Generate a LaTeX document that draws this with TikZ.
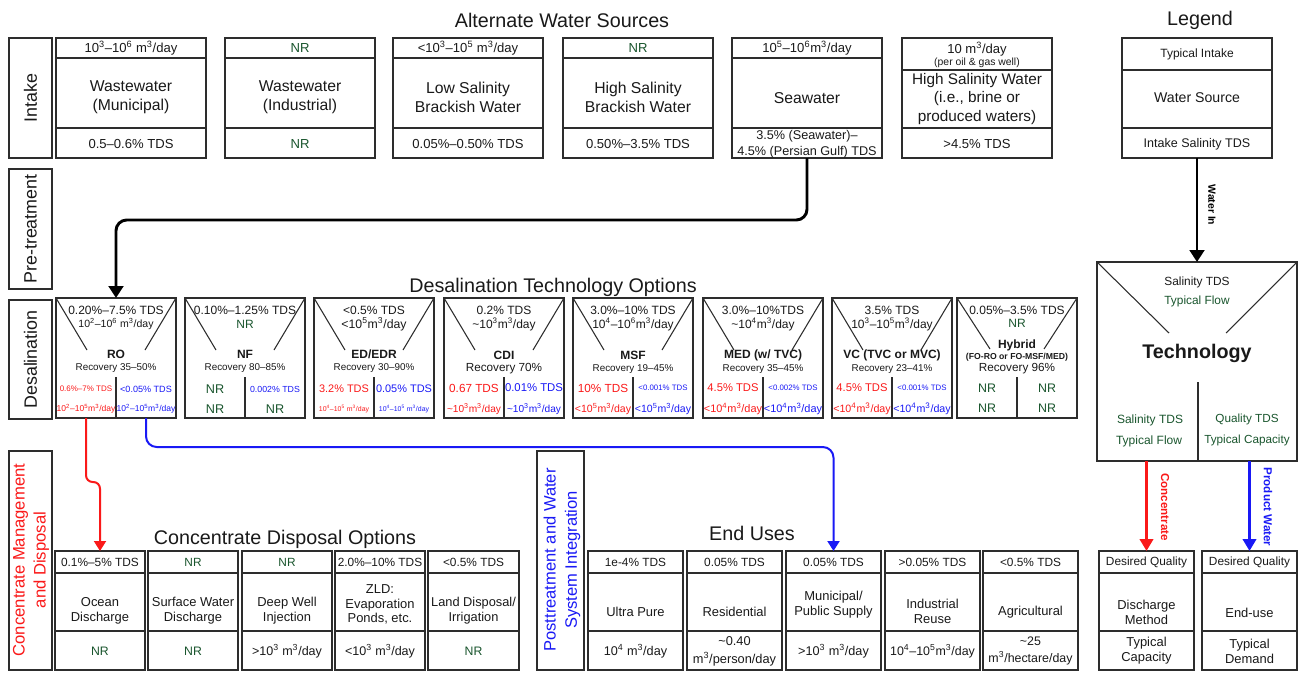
\documentclass[tikz,border=0pt]{standalone}
\usepackage{fontspec}
\setmainfont{Liberation Sans}
\usetikzlibrary{arrows.meta}
\definecolor{nrg}{RGB}{25,85,45}
\definecolor{cred}{RGB}{250,25,25}
\definecolor{cblue}{RGB}{25,25,245}
\definecolor{txtc}{RGB}{25,25,25}
\definecolor{ln}{RGB}{45,45,45}
\newcommand\tsup[1]{\textsuperscript{#1}}
\begin{document}
\begin{tikzpicture}[x=0.75pt,y=-0.75pt,
 box/.style 2 args={draw=ln, line width=1.1pt, inner sep=0pt, outer sep=0pt, anchor=north west, minimum width=#1*0.75pt, minimum height=#2*0.75pt},
 rule/.style={draw=ln, line width=1.1pt},
 diag/.style={draw=ln, line width=0.8pt},
 tx/.style={inner sep=0pt, text=txtc, align=center},
 fs/.style 2 args={font=\fontsize{#1}{#2}\selectfont},
 nr/.style={text=nrg},
 rd/.style={text=cred},
 bl/.style={text=cblue},
 side/.style={tx, rotate=90, fs={13.4}{16}},
 title/.style={tx, fs={14.8}{17}},
 bigarrow/.style={draw=black, line width=2.2pt, -{Triangle[length=9pt,width=11pt]}},
 redarrow/.style={draw=cred, line width=1.5pt, -{Triangle[length=7.5pt,width=9pt]}},
 bluearrow/.style={draw=cblue, line width=1.5pt, -{Triangle[length=7.5pt,width=9pt]}},
 legred/.style={draw=cred, line width=2.2pt, -{Triangle[length=9pt,width=10pt]}},
 legblue/.style={draw=cblue, line width=2.2pt, -{Triangle[length=9pt,width=10pt]}},
 arrlab/.style={inner sep=0pt, rotate=-90, font=\fontsize{8.7}{10}\selectfont\bfseries},
]
\useasboundingbox (0,0) rectangle (1299,672);

% ---------- titles
\node[title] (tAWS) at (562,20) {Alternate Water Sources};
\node[title] (tLeg) at (1200,20) {Legend};
\node[title] (tDes) at (553,287) {Desalination Technology Options};
\node[title] (tCon) at (285,539) {Concentrate Disposal Options};
\node[title] (tEnd) at (752,533) {End Uses};

% ---------- side labels
\node[box={43}{120}] (lIn) at (9,38) {};
\node[side] (lInT) at (lIn.center) {Intake};
\node[box={43}{120}] (lPre) at (9,169) {};
\node[side] (lPreT) at (lPre.center) {Pre-treatment};
\node[box={43}{119}] (lDes) at (9,300) {};
\node[side] (lDesT) at (lDes.center) {Desalination};
\node[box={43}{219}] (lCon) at (9,451) {};
\node[side, text=cred, fs={12.5}{15.8}] (lConT) at (31,560) {Concentrate Management\\and Disposal};
\node[box={47}{219}] (lPost) at (537,451) {};
\node[side, text=cblue, fs={12.4}{15.8}] (lPostT) at (562,560) {Posttreatment and Water\\System Integration};

% ---------- intake row
\begin{scope}[shift={(56,38)}]
\node[box={150}{120}] (wwm) at (0,0) {};
\draw[rule] (0,20) -- (150,20) (0,90) -- (150,90);
\node[tx,fs={9.8}{11.8}] (wwm1) at (75,10.5) {10\tsup{3}--10\tsup{6} m\tsup{3}/day};
\node[tx,fs={11.8}{14.2}] (wwm2) at (75,59) {Wastewater\\(Municipal)};
\node[tx,fs={9.8}{11.8}] (wwm3) at (75,106) {0.5--0.6\% TDS};
\end{scope}
\begin{scope}[shift={(225,38)}]
\node[box={150}{120}] (wwi) at (0,0) {};
\draw[rule] (0,20) -- (150,20) (0,90) -- (150,90);
\node[tx,nr,fs={9.8}{11.8}] (wwi1) at (75,10.5) {NR};
\node[tx,fs={11.8}{14.2}] (wwi2) at (75,59) {Wastewater\\(Industrial)};
\node[tx,nr,fs={9.8}{11.8}] (wwi3) at (75,106) {NR};
\end{scope}
\begin{scope}[shift={(393,38)}]
\node[box={150}{120}] (lsb) at (0,0) {};
\draw[rule] (0,20) -- (150,20) (0,90) -- (150,90);
\node[tx,fs={9.8}{11.8}] (lsb1) at (75,10.5) {<10\tsup{3}--10\tsup{5} m\tsup{3}/day};
\node[tx,fs={11.8}{14.2}] (lsb2) at (75,59) {Low Salinity\\Brackish Water};
\node[tx,fs={9.8}{11.8}] (lsb3) at (75,106) {0.05\%--0.50\% TDS};
\end{scope}
\begin{scope}[shift={(563,38)}]
\node[box={150}{120}] (hsb) at (0,0) {};
\draw[rule] (0,20) -- (150,20) (0,90) -- (150,90);
\node[tx,nr,fs={9.8}{11.8}] (hsb1) at (75,10.5) {NR};
\node[tx,fs={11.8}{14.2}] (hsb2) at (75,59) {High Salinity\\Brackish Water};
\node[tx,fs={9.8}{11.8}] (hsb3) at (75,106) {0.50\%--3.5\% TDS};
\end{scope}
\begin{scope}[shift={(732,38)}]
\node[box={150}{120}] (sw) at (0,0) {};
\draw[rule] (0,20) -- (150,20) (0,90) -- (150,90);
\node[tx,fs={9.8}{11.8}] (sw1) at (75,10.5) {10\tsup{5}--10\tsup{6}m\tsup{3}/day};
\node[tx,fs={11.8}{14.2}] (sw2) at (75,60) {Seawater};
\node[tx,fs={9.5}{12}] (sw3) at (75,106) {3.5\% (Seawater)--\\4.5\% (Persian Gulf) TDS};
\end{scope}
\begin{scope}[shift={(902,38)}]
\node[box={150}{120}] (hsw) at (0,0) {};
\draw[rule] (0,32) -- (150,32) (0,90) -- (150,90);
\node[tx,fs={9.8}{11.8}] (hsw1) at (75,11) {10 m\tsup{3}/day};
\node[tx,fs={7.8}{9}] (hsw1b) at (75,25) {(per oil \& gas well)};
\node[tx,fs={11.5}{14.2}] (hsw2) at (75,61) {High Salinity Water\\(i.e., brine or\\produced waters)};
\node[tx,fs={9.8}{11.8}] (hsw3) at (75,106) {>4.5\% TDS};
\end{scope}
\begin{scope}[shift={(1122,38)}]
\node[box={150}{120}] (leg) at (0,0) {};
\draw[rule] (0,32) -- (150,32) (0,90) -- (150,90);
\node[tx,fs={9}{11}] (leg1) at (75,16) {Typical Intake};
\node[tx,fs={10.6}{12.5}] (leg2) at (75,60) {Water Source};
\node[tx,fs={9.4}{11}] (leg3) at (75,106) {Intake Salinity TDS};
\end{scope}

% ---------- desalination row
\begin{scope}[shift={(56,298)}]
\node[box={120}{120}] (ro) at (0,0) {};
\draw[diag] (0,0) -- (31,52) (120,0) -- (89,52);
\draw[rule] (60,79) -- (60,120);
\node[tx,fs={9}{10}] (ro1) at (60,12) {0.20\%--7.5\% TDS};
\node[tx,fs={7.9}{9}] (ro2) at (60,26) {10\tsup{2}--10\tsup{6} m\tsup{3}/day};
\node[tx,fs={9}{10}] (ro3) at (60,56) {\bfseries RO};
\node[tx,fs={7.4}{9}] (ro4) at (60,70) {Recovery 35--50\%};
\node[tx,rd,fs={6}{7}] (ro5) at (30,91) {0.6\%--7\% TDS};
\node[tx,rd,fs={6.4}{7}] (ro6) at (30,111) {10\tsup{2}--10\tsup{5}m\tsup{3}/day};
\node[tx,bl,fs={6.8}{8}] (ro7) at (90,91) {<0.05\% TDS};
\node[tx,bl,fs={6.4}{7}] (ro8) at (90,111) {10\tsup{2}--10\tsup{5}m\tsup{3}/day};
\end{scope}
\begin{scope}[shift={(185,298)}]
\node[box={120}{120}] (nf) at (0,0) {};
\draw[diag] (0,0) -- (31,52) (120,0) -- (89,52);
\draw[rule] (60,79) -- (60,120);
\node[tx,fs={9}{10}] (nf1) at (60,12) {0.10\%--1.25\% TDS};
\node[tx,nr,fs={9}{10}] (nf2) at (60,26) {NR};
\node[tx,fs={9}{10}] (nf3) at (60,56) {\bfseries NF};
\node[tx,fs={7.4}{9}] (nf4) at (60,70) {Recovery 80--85\%};
\node[tx,nr,fs={9.5}{10}] (nf5) at (30,91) {NR};
\node[tx,nr,fs={9.5}{10}] (nf6) at (30,111) {NR};
\node[tx,bl,fs={6.6}{8}] (nf7) at (90,91) {0.002\% TDS};
\node[tx,nr,fs={9.5}{10}] (nf8) at (90,111) {NR};
\end{scope}
\begin{scope}[shift={(314,298)}]
\node[box={120}{120}] (ed) at (0,0) {};
\draw[diag] (0,0) -- (31,52) (120,0) -- (89,52);
\draw[rule] (60,79) -- (60,120);
\node[tx,fs={9}{10}] (ed1) at (60,12) {<0.5\% TDS};
\node[tx,fs={9.2}{10}] (ed2) at (60,26) {<10\tsup{5}m\tsup{3}/day};
\node[tx,fs={9}{10}] (ed3) at (60,56) {\bfseries ED/EDR};
\node[tx,fs={7.4}{9}] (ed4) at (60,70) {Recovery 30--90\%};
\node[tx,rd,fs={8.2}{9}] (ed5) at (30,91) {3.2\% TDS};
\node[tx,rd,fs={5.2}{6}] (ed6) at (30,111) {10\tsup{4}--10\tsup{5} m\tsup{3}/day};
\node[tx,bl,fs={8.2}{9}] (ed7) at (90,91) {0.05\% TDS};
\node[tx,bl,fs={5.2}{6}] (ed8) at (90,111) {10\tsup{4}--10\tsup{5} m\tsup{3}/day};
\end{scope}
\begin{scope}[shift={(444,298)}]
\node[box={120}{120}] (cdi) at (0,0) {};
\draw[diag] (0,0) -- (31,52) (120,0) -- (89,52);
\draw[rule] (60,79) -- (60,120);
\node[tx,fs={9}{10}] (cdi1) at (60,12) {0.2\% TDS};
\node[tx,fs={9}{10}] (cdi2) at (60,26) {\textasciitilde10\tsup{3}m\tsup{3}/day};
\node[tx,fs={9}{10}] (cdi3) at (60,57) {\bfseries CDI};
\node[tx,fs={8.8}{10}] (cdi4) at (60,71) {Recovery 70\%};
\node[tx,rd,fs={8.8}{10}] (cdi5) at (30,90) {0.67 TDS};
\node[tx,rd,fs={7.6}{9}] (cdi6) at (30,111) {\textasciitilde10\tsup{3}m\tsup{3}/day};
\node[tx,bl,fs={8.5}{10}] (cdi7) at (90,90) {0.01\% TDS};
\node[tx,bl,fs={7.6}{9}] (cdi8) at (90,111) {\textasciitilde10\tsup{3}m\tsup{3}/day};
\end{scope}
\begin{scope}[shift={(573,298)}]
\node[box={120}{120}] (msf) at (0,0) {};
\draw[diag] (0,0) -- (31,52) (120,0) -- (89,52);
\draw[rule] (60,79) -- (60,120);
\node[tx,fs={9}{10}] (msf1) at (60,12) {3.0\%--10\% TDS};
\node[tx,fs={9}{10}] (msf2) at (60,26) {10\tsup{4}--10\tsup{6}m\tsup{3}/day};
\node[tx,fs={9}{10}] (msf3) at (60,57) {\bfseries MSF};
\node[tx,fs={7.4}{9}] (msf4) at (60,71) {Recovery 19--45\%};
\node[tx,rd,fs={8.8}{10}] (msf5) at (30,90) {10\% TDS};
\node[tx,rd,fs={7.9}{9}] (msf6) at (30,111) {<10\tsup{5}m\tsup{3}/day};
\node[tx,bl,fs={5.9}{7}] (msf7) at (90,90) {<0.001\% TDS};
\node[tx,bl,fs={7.9}{9}] (msf8) at (90,111) {<10\tsup{5}m\tsup{3}/day};
\end{scope}
\begin{scope}[shift={(703,298)}]
\node[box={120}{120}] (med) at (0,0) {};
\draw[diag] (0,0) -- (31,52) (120,0) -- (89,52);
\draw[rule] (60,79) -- (60,120);
\node[tx,fs={9}{10}] (med1) at (60,12) {3.0\%--10\%TDS};
\node[tx,fs={9}{10}] (med2) at (60,26) {\textasciitilde10\tsup{4}m\tsup{3}/day};
\node[tx,fs={9}{10}] (med3) at (60,57) {\bfseries MED (w/ TVC)};
\node[tx,fs={7.4}{9}] (med4) at (60,71) {Recovery 35--45\%};
\node[tx,rd,fs={8.4}{10}] (med5) at (30,90) {4.5\% TDS};
\node[tx,rd,fs={8.2}{9}] (med6) at (30,111) {<10\tsup{4}m\tsup{3}/day};
\node[tx,bl,fs={5.9}{7}] (med7) at (90,90) {<0.002\% TDS};
\node[tx,bl,fs={8.2}{9}] (med8) at (90,111) {<10\tsup{4}m\tsup{3}/day};
\end{scope}
\begin{scope}[shift={(832,298)}]
\node[box={120}{120}] (vc) at (0,0) {};
\draw[diag] (0,0) -- (31,52) (120,0) -- (89,52);
\draw[rule] (60,79) -- (60,120);
\node[tx,fs={9}{10}] (vc1) at (60,12) {3.5\% TDS};
\node[tx,fs={9}{10}] (vc2) at (60,26) {10\tsup{3}--10\tsup{5}m\tsup{3}/day};
\node[tx,fs={9}{10}] (vc3) at (60,57) {\bfseries VC (TVC or MVC)};
\node[tx,fs={7.4}{9}] (vc4) at (60,71) {Recovery 23--41\%};
\node[tx,rd,fs={8.4}{10}] (vc5) at (30,90) {4.5\% TDS};
\node[tx,rd,fs={8}{9}] (vc6) at (30,111) {<10\tsup{4}m\tsup{3}/day};
\node[tx,bl,fs={5.9}{7}] (vc7) at (90,90) {<0.001\% TDS};
\node[tx,bl,fs={8}{9}] (vc8) at (90,111) {<10\tsup{4}m\tsup{3}/day};
\end{scope}
\begin{scope}[shift={(957,298)}]
\node[box={120}{120}] (hyb) at (0,0) {};
\draw[diag] (0,0) -- (33,51) (120,0) -- (87,51);
\draw[rule] (60,79) -- (60,120);
\node[tx,fs={9}{10}] (hyb1) at (60,12) {0.05\%--3.5\% TDS};
\node[tx,nr,fs={9}{10}] (hyb2) at (60,25) {NR};
\node[tx,fs={9}{10}] (hyb3) at (60,47) {\bfseries Hybrid};
\node[tx,fs={6.5}{7}] (hyb4) at (60,59) {\bfseries (FO-RO or FO-MSF/MED)};
\node[tx,fs={8.8}{10}] (hyb5) at (60,71) {Recovery 96\%};
\node[tx,nr,fs={9.3}{10}] (hyb6) at (30,90) {NR};
\node[tx,nr,fs={9.3}{10}] (hyb7) at (90,90) {NR};
\node[tx,nr,fs={9.3}{10}] (hyb8) at (30,110) {NR};
\node[tx,nr,fs={9.3}{10}] (hyb9) at (90,110) {NR};
\end{scope}

% ---------- legend technology box
\begin{scope}[shift={(1097,262)}]
\node[box={200}{199}] (tech) at (0,0) {};
\draw[diag] (0,0) -- (72,71) (200,0) -- (129,71);
\draw[diag] (101,120) -- (101,199);
\node[tx,fs={8.9}{10}] (tech1) at (100,20) {Salinity TDS};
\node[tx,nr,fs={8.9}{10}] (tech2) at (100,39) {Typical Flow};
\node[tx,fs={14.8}{17}] (tech3) at (100,91) {\bfseries Technology};
\node[tx,nr,fs={9}{10}] (tech4) at (53,158) {Salinity TDS};
\node[tx,nr,fs={9}{10}] (tech5) at (52,179) {Typical Flow};
\node[tx,nr,fs={8.8}{10}] (tech6) at (150,157) {Quality TDS};
\node[tx,nr,fs={8.8}{10}] (tech7) at (150,178) {Typical Capacity};
\end{scope}

% ---------- concentrate disposal options
\begin{scope}[shift={(55,551)}]
\node[box={90}{119}] (ocean) at (0,0) {};
\draw[rule] (0,22) -- (90,22) (0,80) -- (90,80);
\node[tx,fs={8.9}{10}] (oc1) at (45,11) {0.1\%--5\% TDS};
\node[tx,fs={9.7}{11.3}] (oc2) at (45,59.5) {Ocean\\Discharge};
\node[tx,nr,fs={9.2}{10}] (oc3) at (45,100) {NR};
\end{scope}
\begin{scope}[shift={(148,551)}]
\node[box={90}{119}] (surf) at (0,0) {};
\draw[rule] (0,22) -- (90,22) (0,80) -- (90,80);
\node[tx,nr,fs={8.9}{10}] (su1) at (45,11) {NR};
\node[tx,fs={9.7}{11.3}] (su2) at (45,59.5) {Surface Water\\Discharge};
\node[tx,nr,fs={9.2}{10}] (su3) at (45,100) {NR};
\end{scope}
\begin{scope}[shift={(242,551)}]
\node[box={90}{119}] (deep) at (0,0) {};
\draw[rule] (0,22) -- (90,22) (0,80) -- (90,80);
\node[tx,nr,fs={8.9}{10}] (dw1) at (45,11) {NR};
\node[tx,fs={9.7}{11.3}] (dw2) at (45,59.5) {Deep Well\\Injection};
\node[tx,fs={9.4}{10}] (dw3) at (45,100) {>10\tsup{3} m\tsup{3}/day};
\end{scope}
\begin{scope}[shift={(335,551)}]
\node[box={90}{119}] (zld) at (0,0) {};
\draw[rule] (0,22) -- (90,22) (0,80) -- (90,80);
\node[tx,fs={8.9}{10}] (zl1) at (45,11) {2.0\%--10\% TDS};
\node[tx,fs={9.7}{11.1}] (zl2) at (45,53.5) {ZLD:\\Evaporation\\Ponds, etc.};
\node[tx,fs={9.4}{10}] (zl3) at (45,100) {<10\tsup{3} m\tsup{3}/day};
\end{scope}
\begin{scope}[shift={(428,551)}]
\node[box={91}{119}] (land) at (0,0) {};
\draw[rule] (0,22) -- (91,22) (0,80) -- (91,80);
\node[tx,fs={8.9}{10}] (la1) at (45.5,11) {<0.5\% TDS};
\node[tx,fs={9.6}{11.3}] (la2) at (45.5,59.5) {Land Disposal/\\Irrigation};
\node[tx,nr,fs={9.2}{10}] (la3) at (45.5,100) {NR};
\end{scope}

% ---------- end uses
\begin{scope}[shift={(588,551)}]
\node[box={95}{119}] (ultra) at (0,0) {};
\draw[rule] (0,22) -- (95,22) (0,80) -- (95,80);
\node[tx,fs={8.9}{10}] (up1) at (47.5,11) {1e-4\% TDS};
\node[tx,fs={9.7}{11.3}] (up2) at (47.5,61) {Ultra Pure};
\node[tx,fs={9.5}{10}] (up3) at (47.5,100) {10\tsup{4} m\tsup{3}/day};
\end{scope}
\begin{scope}[shift={(687,551)}]
\node[box={95}{119}] (resi) at (0,0) {};
\draw[rule] (0,22) -- (95,22) (0,80) -- (95,80);
\node[tx,fs={8.9}{10}] (re1) at (47.5,11) {0.05\% TDS};
\node[tx,fs={9.7}{11.3}] (re2) at (47.5,61) {Residential};
\node[tx,fs={9.6}{13.5}] (re3) at (47.5,100) {\textasciitilde0.40\\m\tsup{3}/person/day};
\end{scope}
\begin{scope}[shift={(786,551)}]
\node[box={95}{119}] (mun) at (0,0) {};
\draw[rule] (0,22) -- (95,22) (0,80) -- (95,80);
\node[tx,fs={8.9}{10}] (mu1) at (47.5,11) {0.05\% TDS};
\node[tx,fs={9.7}{11.3}] (mu2) at (47.5,53.5) {Municipal/\\Public Supply};
\node[tx,fs={9.5}{10}] (mu3) at (47.5,100) {>10\tsup{3} m\tsup{3}/day};
\end{scope}
\begin{scope}[shift={(885,551)}]
\node[box={95}{119}] (indu) at (0,0) {};
\draw[rule] (0,22) -- (95,22) (0,80) -- (95,80);
\node[tx,fs={8.9}{10}] (in1) at (47.5,11) {>0.05\% TDS};
\node[tx,fs={9.7}{11.3}] (in2) at (47.5,60) {Industrial\\Reuse};
\node[tx,fs={9.3}{10}] (in3) at (47.5,100) {10\tsup{4}--10\tsup{5}m\tsup{3}/day};
\end{scope}
\begin{scope}[shift={(983,551)}]
\node[box={95}{119}] (agri) at (0,0) {};
\draw[rule] (0,22) -- (95,22) (0,80) -- (95,80);
\node[tx,fs={8.9}{10}] (ag1) at (47.5,11) {<0.5\% TDS};
\node[tx,fs={9.7}{11.3}] (ag2) at (47.5,61) {Agricultural};
\node[tx,fs={9.3}{13}] (ag3) at (47.5,100) {\textasciitilde25\\m\tsup{3}/hectare/day};
\end{scope}

% ---------- legend outputs
\begin{scope}[shift={(1099,551)}]
\node[box={95}{119}] (dq1) at (0,0) {};
\draw[rule] (0,22) -- (95,22) (0,80) -- (95,80);
\node[tx,fs={8.9}{10}] (dq1a) at (47.5,11) {Desired Quality};
\node[tx,fs={9.7}{11.3}] (dq1b) at (47.5,61) {Discharge\\Method};
\node[tx,fs={9.7}{11.3}] (dq1c) at (47.5,100) {Typical\\Capacity};
\end{scope}
\begin{scope}[shift={(1202,551)}]
\node[box={95}{119}] (dq2) at (0,0) {};
\draw[rule] (0,22) -- (95,22) (0,80) -- (95,80);
\node[tx,fs={8.9}{10}] (dq2a) at (47.5,11) {Desired Quality};
\node[tx,fs={9.7}{11.3}] (dq2b) at (47.5,62) {End-use};
\node[tx,fs={9.7}{11.3}] (dq2c) at (47.5,100) {Typical\\Demand};
\end{scope}

% ---------- connectors
\coordinate (bk) at (116,220);
\draw[bigarrow, rounded corners=8pt] (sw.south) |- (bk) -- (ro.north);

\coordinate (roL) at (86,418);
\coordinate (roLj) at (86,482);
\draw[redarrow, rounded corners=5pt] (roL) -- (roLj) -| (ocean.north);

\coordinate (roR) at (146,418);
\coordinate (roRj) at (146,447);
\draw[bluearrow, rounded corners=8pt] (roR) -- (roRj) -| (mun.north);

\draw[bigarrow] (leg.south) -- (tech.north);
\node[arrlab, font=\fontsize{7.8}{9}\selectfont\bfseries] (lWI) at (1212,205) {Water In};
\draw[legred] (tech.south -| dq1.north) -- (dq1.north);
\node[arrlab, text=cred] (lCc) at (1165,507) {Concentrate};
\draw[legblue] (tech.south -| dq2.north) -- (dq2.north);
\node[arrlab, text=cblue] (lPW) at (1268,507) {Product Water};
\end{tikzpicture}
\end{document}
